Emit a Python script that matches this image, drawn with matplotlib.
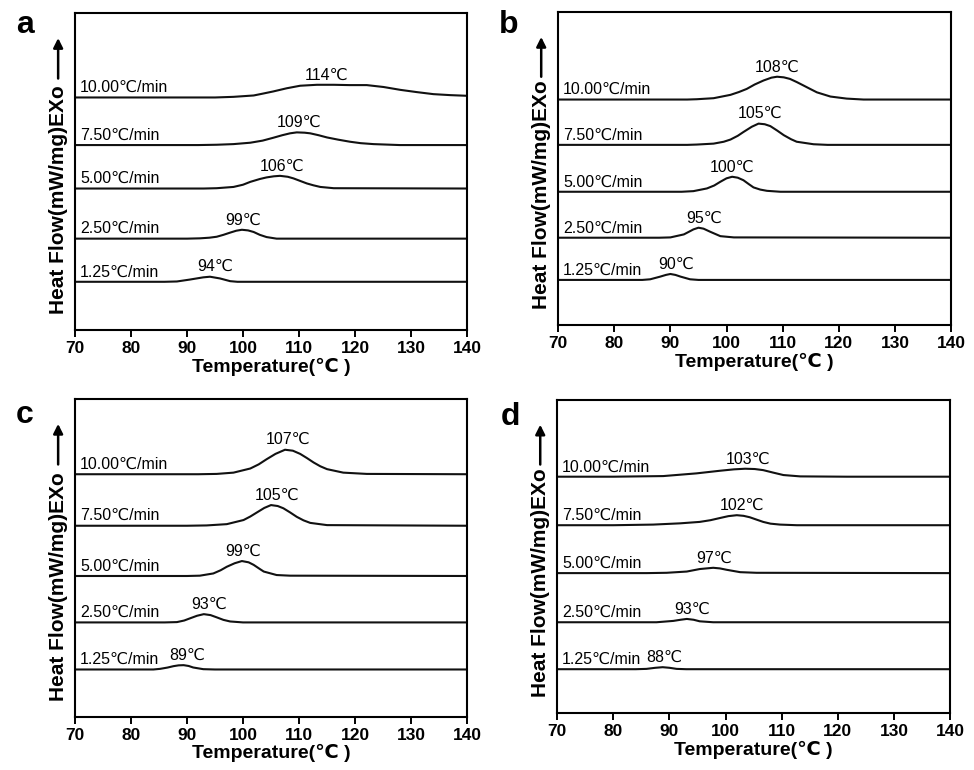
import matplotlib
matplotlib.use("Agg")
import matplotlib.pyplot as plt
import numpy as np

plt.rcParams['font.family'] = ['Liberation Sans', 'DejaVu Sans']

# heating rates, bottom curve first
rates = ["1.25", "2.50", "5.00", "7.50", "10.00"]

# ---- panel a ----
a_offsets = [15.3, 28.9, 44.7, 58.4, 73.4]
a_peaks = [94, 99, 106, 109, 114]
a_temps = [
    [70, 86, 88.2, 90.5, 92.9, 94.1, 95.9, 97.7, 99, 140],
    [70, 90, 92.3, 94, 95.3, 96.5, 97.7, 98.8, 99.8, 100.9, 101.9, 103, 104.2, 106, 140],
    [70, 93, 95.3, 98.3, 100, 101.3, 103, 104.2, 105.5, 106.6, 108, 109, 110.2, 111.4, 112.6, 113.8, 116.2, 140],
    [70, 92, 95.3, 98.3, 101.3, 103.5, 105.4, 107, 108.4, 109.6, 111, 112, 113.5, 115, 117, 119.1, 121, 123.3, 128, 140],
    [70, 95, 98.3, 101.9, 103.5, 105.4, 107.8, 110.2, 113.2, 116.2, 119, 122.1, 125.1, 128.1, 131, 134, 137, 140],
]
a_heat = [
    [0, 0, 0.1, 0.7, 1.4, 1.6, 1.05, 0.2, 0, 0],
    [0, 0, 0.1, 0.3, 0.6, 1.2, 1.9, 2.5, 2.8, 2.6, 2.1, 1.2, 0.5, 0, 0],
    [0, 0, 0.1, 0.5, 1.2, 2.1, 3.0, 3.5, 3.85, 4.0, 3.7, 3.2, 2.4, 1.6, 1.0, 0.5, 0.1, 0],
    [0, 0, 0.1, 0.3, 0.74, 1.4, 2.3, 3.1, 3.7, 4.0, 3.9, 3.7, 3.1, 2.4, 1.7, 1.05, 0.6, 0.3, 0, 0],
    [0, 0, 0.2, 0.63, 1.2, 1.9, 2.9, 3.7, 4.0, 4.0, 3.9, 3.9, 3.3, 2.4, 1.7, 1.05, 0.74, 0.53],
]

# ---- panel b ----
b_offsets = [14.4, 27.9, 42.6, 57.6, 72.1]
b_peaks = [90, 95, 100, 105, 108]
b_temps = [
    [70, 85, 86.4, 88.2, 89.2, 90, 90.9, 91.8, 93.5, 95, 140],
    [70, 88, 90, 92.4, 93.3, 94.1, 95, 95.9, 97.1, 98.9, 101.3, 140],
    [70, 92, 94.1, 96.5, 97.8, 98.9, 100, 101, 102, 103, 104, 104.8, 106, 107.2, 109.6, 140],
    [70, 93, 94.7, 97.7, 99.5, 100.7, 102, 103, 104.5, 105.7, 106.8, 107.8, 109, 110.2, 111.5, 112.5, 115.5, 118, 140],
    [70, 93, 94.7, 97.7, 100.7, 102.2, 103.6, 105, 106.6, 108, 109, 110.2, 111.3, 112.5, 113.7, 115, 116.1, 118.5, 121.4, 124.4, 140],
]
b_heat = [
    [0, 0, 0.2, 1.06, 1.6, 1.9, 1.6, 1.06, 0.2, 0, 0],
    [0, 0, 0.1, 1.06, 1.9, 2.66, 3.2, 2.9, 1.9, 0.5, 0.1, 0],
    [0, 0, 0.2, 1.06, 2.0, 3.2, 4.3, 4.8, 4.5, 3.7, 2.4, 1.4, 0.7, 0.3, 0, 0],
    [0, 0, 0.1, 0.4, 1.0, 1.7, 2.9, 4.1, 5.8, 6.8, 6.6, 6.0, 4.6, 3.1, 1.8, 1.0, 0.2, 0, 0],
    [0, 0, 0.1, 0.43, 1.5, 2.4, 3.4, 4.8, 6.1, 7.0, 7.3, 7.1, 6.6, 5.6, 4.5, 3.3, 2.3, 0.96, 0.3, 0, 0],
]

# ---- panel c ----
c_offsets = [14.9, 29.7, 44.3, 60.1, 76.3]
c_peaks = [89, 93, 99, 105, 107]
c_temps = [
    [70, 84, 85.2, 86.5, 87.6, 88.5, 89.4, 90.3, 91.1, 92.9, 95, 140],
    [70, 86, 88.2, 89.5, 90.5, 91.8, 93, 94.2, 95.3, 96.5, 97.7, 100, 140],
    [70, 90, 92.3, 94.7, 96, 97.1, 98.5, 99.8, 101, 101.9, 103, 103.7, 106, 108.4, 140],
    [70, 90, 93.5, 97.1, 100.1, 101.3, 102.5, 103.8, 105, 106.2, 107.2, 108.4, 109.6, 110.8, 112, 115, 140],
    [70, 92, 95.3, 98.3, 101.3, 102.8, 104.2, 105.8, 107.5, 108.9, 110.2, 111.4, 112.6, 113.8, 115, 117.9, 122.1, 140],
]
c_heat = [
    [0, 0, 0.2, 0.6, 1.05, 1.3, 1.36, 1.1, 0.63, 0.1, 0, 0],
    [0, 0, 0.1, 0.6, 1.26, 2.1, 2.6, 2.3, 1.6, 0.8, 0.3, 0, 0],
    [0, 0, 0.1, 0.8, 1.8, 2.9, 4.0, 4.7, 4.3, 3.5, 2.2, 1.4, 0.3, 0.1, 0],
    [0, 0, 0.1, 0.5, 1.8, 2.9, 4.2, 5.6, 6.5, 6.2, 5.5, 4.2, 2.8, 1.7, 0.9, 0.2, 0],
    [0, 0, 0.1, 0.5, 1.8, 3.1, 4.7, 6.4, 7.7, 7.4, 6.4, 5.1, 3.7, 2.5, 1.6, 0.5, 0.1, 0],
]

# ---- panel d ----
d_offsets = [14.0, 29.0, 44.7, 60.0, 75.5]
d_peaks = [88, 93, 97, 102, 103]
d_temps = [
    [70, 84, 85.9, 87.5, 88.8, 90, 91.3, 93, 140],
    [70, 86, 87.7, 90.7, 92, 93.1, 94.3, 95.4, 97.8, 140],
    [70, 86, 89.5, 93.1, 95.4, 97.8, 99, 100.2, 102.6, 105.5, 140],
    [70, 80, 87.1, 91.9, 95.4, 97.3, 99, 100.5, 102, 103.2, 104.3, 105.5, 106.7, 108, 109.7, 112.7, 140],
    [70, 80, 88.9, 94.8, 99, 101.5, 103.5, 105.2, 106.7, 108.5, 110.3, 113.3, 121.6, 140],
]
d_heat = [
    [0, 0, 0.1, 0.45, 0.64, 0.45, 0.1, 0, 0],
    [0, 0, 0, 0.43, 0.8, 1.06, 0.8, 0.3, 0, 0],
    [0, 0, 0.1, 0.5, 1.3, 1.7, 1.5, 1.06, 0.3, 0.1, 0],
    [0, 0, 0.2, 0.6, 1.06, 1.6, 2.3, 2.9, 3.2, 3.0, 2.55, 1.8, 1.06, 0.5, 0.2, 0, 0],
    [0, 0, 0.2, 1.06, 1.9, 2.35, 2.55, 2.45, 2.1, 1.3, 0.53, 0.1, 0, 0],
]


def panneau(ax, temps, heat, offsets, peaks):
    for i in range(len(rates)):
        t = np.array(temps[i])
        y = np.array(heat[i]) + offsets[i]
        ax.plot(t, y, color='#111111', lw=1.5)
        # vitesse de chauffe a gauche
        ax.text(70.9, offsets[i] + 1.7, rates[i] + "℃/min", fontsize=11.5,
                ha='left', va='baseline')
        # temperature du pic
        ax.text(peaks[i] + 1.0, y.max() + 1.7, str(peaks[i]) + "℃", fontsize=11.5,
                ha='center', va='baseline')

    ax.set_xlim(70, 140)
    ax.set_ylim(0, 100)
    ax.set_xticks(np.arange(70, 141, 10))
    ax.set_yticks([])
    ax.tick_params(axis='x', direction='out', length=5, width=1.4, labelsize=12.5, pad=3)
    for lab in ax.get_xticklabels():
        lab.set_fontweight('bold')
    for sp in ax.spines.values():
        sp.set_linewidth(1.5)
    ax.set_xlabel("Temperature(℃ )", fontsize=14, fontweight='bold', labelpad=1)

    # label y + fleche
    ax.text(-0.043, 0.05, "Heat Flow(mW/mg)EXo", transform=ax.transAxes, rotation=90,
            ha='center', va='bottom', fontsize=15, fontweight='bold')
    ax.annotate('', xy=(-0.043, 0.93), xytext=(-0.043, 0.785), xycoords='axes fraction',
                arrowprops=dict(arrowstyle='-|>', lw=1.8, color='k', mutation_scale=14),
                annotation_clip=False)


fig = plt.figure(figsize=(9.74, 7.7), dpi=100)
ax_a = fig.add_axes([0.077, 0.571, 0.4025, 0.412])
ax_b = fig.add_axes([0.573, 0.578, 0.4035, 0.406])
ax_c = fig.add_axes([0.077, 0.069, 0.4025, 0.413])
ax_d = fig.add_axes([0.572, 0.074, 0.4035, 0.4065])

panneau(ax_a, a_temps, a_heat, a_offsets, a_peaks)
panneau(ax_b, b_temps, b_heat, b_offsets, b_peaks)
panneau(ax_c, c_temps, c_heat, c_offsets, c_peaks)
panneau(ax_d, d_temps, d_heat, d_offsets, d_peaks)

# lettres des panneaux
fig.text(16 / 974, 1 - 33 / 770, 'a', fontsize=23, fontweight='bold', ha='left', va='baseline')
fig.text(499 / 974, 1 - 33 / 770, 'b', fontsize=23, fontweight='bold', ha='left', va='baseline')
fig.text(16 / 974, 1 - 423 / 770, 'c', fontsize=23, fontweight='bold', ha='left', va='baseline')
fig.text(501 / 974, 1 - 425 / 770, 'd', fontsize=23, fontweight='bold', ha='left', va='baseline')

fig.savefig("out.png", dpi=100)
